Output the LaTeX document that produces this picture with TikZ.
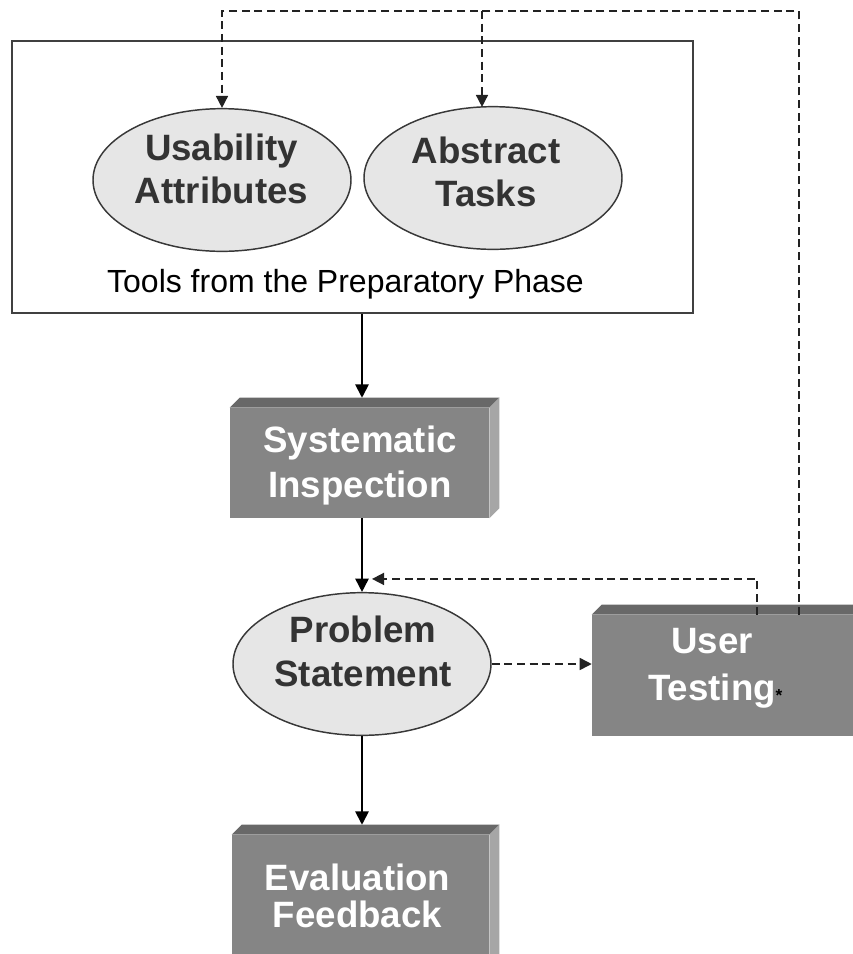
\documentclass[tikz,border=0pt]{standalone}
\usepackage{fontspec}
\setmainfont{Liberation Sans}
\usetikzlibrary{shapes.geometric,arrows.meta,calc}
\definecolor{slabfront}{HTML}{858585}
\definecolor{slabtop}{HTML}{686868}
\definecolor{slabside}{HTML}{A6A6A6}
\definecolor{ovalfill}{HTML}{E6E6E6}
\definecolor{ovaledge}{HTML}{383838}
\definecolor{ovaltxt}{HTML}{333333}
\definecolor{framec}{HTML}{404040}
\definecolor{dashc}{HTML}{222222}
\newcommand\bigb[1]{\bfseries\fontsize{27.5}{#1}\selectfont}
\newcommand\slabfaces[1]{%
  \fill[slabtop] (#1.north west) -- ++(10,-10) -- ($(#1.north east)+(10,-10)$) -- (#1.north east) -- cycle;
  \fill[slabside] (#1.north east) -- ++(10,-10) -- ($(#1.south east)+(10,-10)$) -- (#1.south east) -- cycle;}
\tikzset{
  frame/.style={rectangle, draw=framec, line width=1.5pt, inner sep=0pt},
  oval/.style={ellipse, draw=ovaledge, line width=1.1pt, fill=ovalfill, inner sep=0pt,
    minimum width=193.5pt, minimum height=107pt},
  ovaltext/.style={text=ovaltxt, align=center},
  slab/.style={rectangle, fill=slabfront, inner sep=0pt},
  slabtext/.style={text=white, align=center},
  flow/.style={-{Triangle[width=10pt,length=10pt]}, line width=1.3pt, black},
  back/.style={-{Triangle[width=9pt,length=9pt]}, line width=1.2pt, dashc, dash pattern=on 6pt off 3.5pt}
}
\begin{document}
\begin{tikzpicture}[x=0.75pt,y=-0.75pt]
\useasboundingbox (0,0) rectangle (853,954);
\clip (0,0) rectangle (853,954);

% frame of the preparatory phase
\node[frame, minimum width=510.75pt, minimum height=204pt] (tools) at (352.5,177) {};
\node[font=\fontsize{24}{28}\selectfont, anchor=base, text=black] (toolst) at (345.5,292) {Tools from the Preparatory Phase};

% ellipses
\node[oval] (usab) at (222,180) {};
\node[ovaltext, font=\bigb{32.25}] (usabt) at (221.5,168.5) {Usability\\Attributes};
\node[oval] (abs) at (493,178) {};
\node[ovaltext, font=\bigb{32.25}] (abst) at (486,171.5) {Abstract\\Tasks};
\node[oval] (prob) at (362,664) {};
\node[ovaltext, font=\bigb{33}] (probt) at (363,651) {Problem\\Statement};

% slabs
\node[slab, minimum width=194.25pt, minimum height=82.5pt] (sys) at (359.5,463) {};
\slabfaces{sys}
\node[slabtext, font=\bigb{33.75}] (syst) at (360,466) {Systematic\\Inspection};

\node[slab, minimum width=202.5pt, minimum height=90.75pt] (user) at (727,675.5) {};
\slabfaces{user}
\node[slabtext, font=\bigb{35}] (usert) at (712,668.5) {User\\Testing};
\node[font=\bfseries\fontsize{13}{13}\selectfont, text=black, inner sep=0pt] (ast) at (779,696) {*};

\node[slab, minimum width=192.75pt, minimum height=97.5pt] (eval) at (360.5,900) {};
\slabfaces{eval}
\node[slabtext, font=\bigb{28}] (evalt) at (357.5,896) {Evaluation\\Feedback};

% solid flow
\draw[flow] (prob.north |- tools.south) -- ($(prob.north |- sys.north)+(0,-10)$);
\draw[flow] (prob.north |- sys.south) -- (prob.north);
\draw[flow] (prob.south) -- ($(prob.south |- eval.north)+(0,-10)$);

% dashed feedback
\coordinate (fbtop) at (0,11);
\coordinate (utright) at ($(user.north west)+(207,0)$);
\coordinate (utleft) at ($(user.north west)+(165,0)$);
\coordinate (absin) at ($(abs.north)+(-11,1)$);
\draw[back] (prob.east) -- (prob.east -| user.west);
\draw[back] (utleft) |- ($(prob.north)+(10,-13)$);
\draw[back] (utright) |- (usab.north |- fbtop) -- (usab.north);
\draw[back] (absin |- fbtop) -- (absin);
\end{tikzpicture}
\end{document}
